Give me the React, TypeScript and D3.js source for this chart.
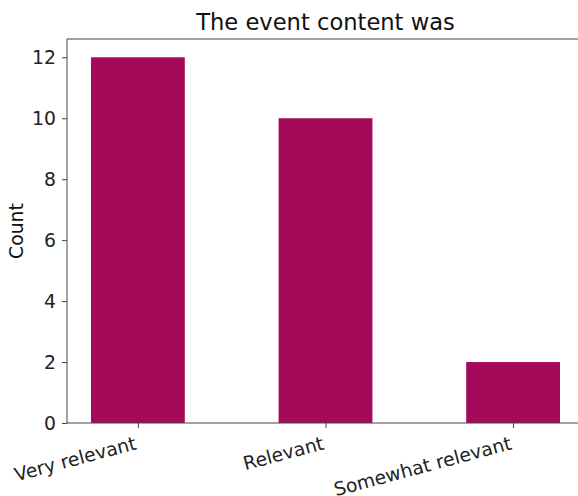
import * as d3 from "d3";
import { useEffect, useRef } from "react";

const categories = ["Very relevant", "Relevant", "Somewhat relevant"];
const counts = [12, 10, 2];
const yTicks = [0, 2, 4, 6, 8, 10, 12];

const App: React.FC = () => {
  const ref = useRef<SVGSVGElement | null>(null);

  useEffect(() => {
    const width = 578;
    const height = 496;
    const margin = { top: 39, left: 67, bottom: 423, right: 584 };
    const font = "DejaVu Sans, sans-serif";

    const svg = d3.select(ref.current);
    svg.selectAll("*").remove();

    // each category occupies one unit, axes padded like pandas bar plot
    const x = d3
      .scaleLinear()
      .domain([-0.378, categories.length - 1 + 0.378])
      .range([margin.left, margin.right]);
    const y = d3.scaleLinear().domain([0, 12.6]).range([margin.bottom, margin.top]);
    const barWidth = x(0.5) - x(0);

    svg
      .append("g")
      .selectAll("rect")
      .data(counts)
      .enter()
      .append("rect")
      .attr("x", (_, i) => x(i) - barWidth / 2)
      .attr("y", (d) => y(d))
      .attr("width", barWidth)
      .attr("height", (d) => y(0) - y(d))
      .attr("fill", "#a50a5a");

    const yAxis = svg
      .append("g")
      .attr("transform", `translate(${margin.left},0)`)
      .call(d3.axisLeft(y).tickValues(yTicks).tickSize(5).tickPadding(6));
    yAxis.select(".domain").remove();

    const xAxis = svg
      .append("g")
      .attr("transform", `translate(0,${margin.bottom})`)
      .call(
        d3
          .axisBottom(x)
          .tickValues(d3.range(categories.length))
          .tickFormat((_, i) => categories[i])
          .tickSize(5)
      );
    xAxis.select(".domain").remove();
    xAxis
      .selectAll("text")
      .attr("text-anchor", "end")
      .attr("dy", null)
      .attr("y", 0)
      .attr("transform", "translate(-1,26) rotate(-15)");

    [xAxis, yAxis].forEach((g) => {
      g.selectAll("text").attr("font-family", font).attr("font-size", 18.8).attr("fill", "#222");
      g.selectAll("line").attr("stroke", "#444").attr("stroke-width", 1);
    });

    // spines
    svg
      .append("path")
      .attr(
        "d",
        `M${margin.right},${margin.top}H${margin.left}V${margin.bottom}H${margin.right}V${margin.top}`
      )
      .attr("fill", "none")
      .attr("stroke", "#444")
      .attr("stroke-width", 1);

    svg
      .append("text")
      .attr("x", (margin.left + margin.right) / 2)
      .attr("y", 30)
      .attr("text-anchor", "middle")
      .attr("font-family", font)
      .attr("font-size", 22.6)
      .attr("fill", "#111")
      .text("The event content was");

    svg
      .append("text")
      .attr("transform", `translate(23,${(margin.top + margin.bottom) / 2}) rotate(-90)`)
      .attr("text-anchor", "middle")
      .attr("font-family", font)
      .attr("font-size", 18.8)
      .attr("fill", "#111")
      .text("Count");

    svg.attr("width", width).attr("height", height);
  }, []);

  return (
    <svg
      ref={ref}
      width={578}
      height={496}
      style={{ position: "absolute", left: 0, top: 0, background: "#fff" }}
    />
  );
};

export default App;
